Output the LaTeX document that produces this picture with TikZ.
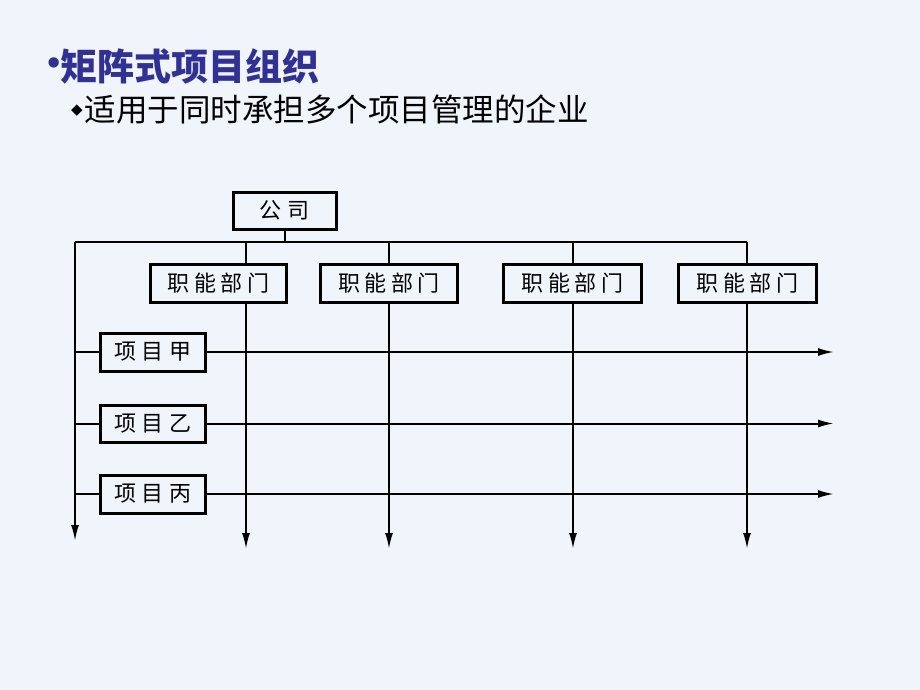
\documentclass[tikz,border=0pt]{standalone}
\usepackage{fontspec}
\setmainfont{Liberation Sans}
\newfontfamily\cjk{Noto Sans CJK SC}
\newfontfamily\dejavu{DejaVu Sans}
\usetikzlibrary{arrows.meta}
\definecolor{bgcol}{RGB}{240,245,252}
\definecolor{titleblue}{RGB}{48,48,150}
\pgfdeclarelayer{back}
\pgfsetlayers{back,main}
\begin{document}
\begin{tikzpicture}[x=1pt,y=-1pt,
  box/.style={draw, line width=3pt, fill=bgcol, inner sep=0pt,
    font=\cjk\fontsize{22}{22}\selectfont},
  ln/.style={line width=2pt},
  arr/.style={ln,-{Latex[length=16pt,width=8pt]}}]
\begin{pgfonlayer}{back}
\fill[bgcol] (0,0) rectangle (920,690);
\end{pgfonlayer}
\useasboundingbox (0,0) rectangle (920,690);

% titles
\node[anchor=west, inner sep=0pt, text=titleblue] (title) at (47,66)
  {\raisebox{5pt}{\fontsize{38}{38}\selectfont •}\cjk\bfseries\fontsize{37}{37}\selectfont 矩阵式项目组织};
\node[anchor=west, inner sep=0pt] (sub) at (71,109)
  {\raisebox{7pt}{\dejavu\fontsize{15}{15}\selectfont ◆}\hspace{2pt}\cjk\fontsize{31.5}{31.5}\selectfont 适用于同时承担多个项目管理的企业};

% boxes
\node[box, minimum width=103, minimum height=37] (gs) at (284.5,210.5) {公\hspace{0.3em}司};
\node[box, minimum width=136, minimum height=38] (f1) at (218.5,283.5) {职\hspace{0.2em}能\hspace{0.2em}部\hspace{0.2em}门};
\node[box, minimum width=137, minimum height=38] (f2) at (389,283.5) {职\hspace{0.2em}能\hspace{0.2em}部\hspace{0.2em}门};
\node[box, minimum width=138, minimum height=38] (f3) at (572.5,283.5) {职\hspace{0.2em}能\hspace{0.2em}部\hspace{0.2em}门};
\node[box, minimum width=138, minimum height=38] (f4) at (747.5,283.5) {职\hspace{0.2em}能\hspace{0.2em}部\hspace{0.2em}门};
\node[box, minimum width=105, minimum height=38] (p1) at (152.5,352) {项\hspace{0.25em}目\hspace{0.25em}甲};
\node[box, minimum width=105, minimum height=37] (p2) at (152.5,423.5) {项\hspace{0.25em}目\hspace{0.25em}乙};
\node[box, minimum width=105, minimum height=38] (p3) at (152.5,494) {项\hspace{0.25em}目\hspace{0.25em}丙};

% coordinates
\coordinate (tl) at (75,242);
\coordinate (tr) at (747,242);
\coordinate (lend) at (75,541);
\coordinate (v1t) at (246,242);
\coordinate (v1e) at (246,549);
\coordinate (v2e) at (389,549);
\coordinate (v3t) at (573,242);
\coordinate (v3e) at (573,549);
\coordinate (v4e) at (747,549);
\coordinate (hx) at (834,0);

\begin{pgfonlayer}{back}
\draw[ln] (gs.south) -- (gs.south |- tl);
\draw[ln] (tl) -- (tr);
\draw[arr] (tl) -- (lend);
\draw[arr] (v1t) -- (v1e);
\draw[arr] (f2.center |- tl) -- (v2e);
\draw[arr] (v3t) -- (v3e);
\draw[arr] (tr) -- (v4e);
\draw[ln] (tl |- p1.west) -- (p1.west);
\draw[ln] (tl |- p2.west) -- (p2.west);
\draw[ln] (tl |- p3.west) -- (p3.west);
\draw[arr] (p1.east) -- (hx |- p1.east);
\draw[arr] (p2.east) -- (hx |- p2.east);
\draw[arr] (p3.east) -- (hx |- p3.east);
\end{pgfonlayer}
\end{tikzpicture}
\end{document}
